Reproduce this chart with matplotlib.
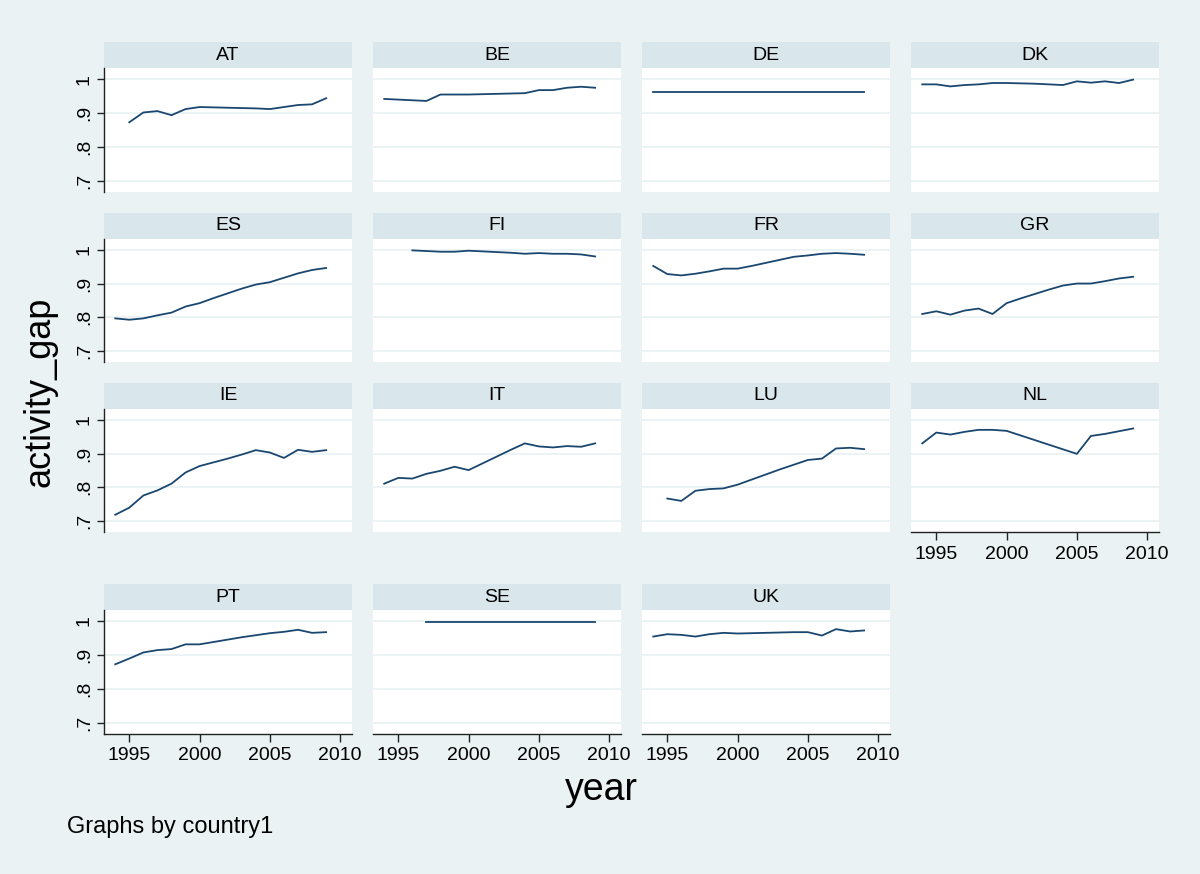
import matplotlib
matplotlib.use('Agg')
import matplotlib.pyplot as plt
from matplotlib.ticker import FuncFormatter

# --- data (activity_gap by year, one panel per country) ---

countries = ['AT', 'BE', 'DE', 'DK', 'ES', 'FI', 'FR', 'GR',
             'IE', 'IT', 'LU', 'NL', 'PT', 'SE', 'UK']

years_at = list(range(1995, 2010))
gap_at = [.873, .902, .906, .894, .912, .918, .917, .916, .915, .914,
          .912, .918, .924, .926, .944]

years_be = list(range(1994, 2010))
gap_be = [.942, .940, .938, .936, .955, .955, .955, .956, .957, .958,
          .959, .968, .968, .975, .978, .975]

years_de = list(range(1994, 2010))
gap_de = [.961] * 16

years_dk = list(range(1994, 2010))
gap_dk = [.985, .985, .979, .983, .985, .989, .989, .988, .987, .985,
          .983, .994, .990, .994, .989, .999]

years_es = list(range(1994, 2010))
gap_es = [.797, .793, .797, .806, .814, .832, .842, .857, .871, .885,
          .897, .904, .917, .930, .940, .946]

years_fi = list(range(1996, 2010))
gap_fi = [.998, .996, .994, .994, .997, .995, .993, .991, .988, .990,
          .988, .988, .986, .980]

years_fr = list(range(1994, 2010))
gap_fr = [.952, .928, .924, .929, .936, .944, .944, .952, .961, .970,
          .979, .983, .988, .990, .988, .985]

years_gr = list(range(1994, 2010))
gap_gr = [.810, .818, .808, .820, .826, .810, .842, .856, .869, .882,
          .894, .900, .900, .907, .915, .920]

years_ie = list(range(1994, 2010))
gap_ie = [.719, .740, .776, .791, .811, .844, .863, .874, .885, .897,
          .910, .903, .887, .911, .905, .910]

years_it = list(range(1994, 2010))
gap_it = [.811, .828, .826, .840, .849, .861, .851, .871, .891, .911,
          .930, .921, .918, .922, .920, .930]

years_lu = list(range(1995, 2010))
gap_lu = [.767, .760, .790, .795, .797, .808, .823, .838, .853, .867,
          .881, .885, .915, .917, .913]

years_nl = [1994, 1995, 1996, 1997, 1998, 1999, 2000, 2005, 2006, 2007, 2008, 2009]
gap_nl = [.930, .962, .956, .964, .970, .970, .967, .899, .952, .958, .966, .974]

years_pt = list(range(1994, 2010))
gap_pt = [.872, .889, .907, .914, .917, .931, .931, .938, .945, .952,
          .958, .964, .968, .974, .965, .967]

years_se = list(range(1997, 2010))
gap_se = [.997] * 13

years_uk = list(range(1994, 2010))
gap_uk = [.954, .961, .959, .954, .961, .965, .963, .964, .965, .966,
          .967, .967, .957, .976, .969, .972]

series = {
    'AT': (years_at, gap_at), 'BE': (years_be, gap_be), 'DE': (years_de, gap_de),
    'DK': (years_dk, gap_dk), 'ES': (years_es, gap_es), 'FI': (years_fi, gap_fi),
    'FR': (years_fr, gap_fr), 'GR': (years_gr, gap_gr), 'IE': (years_ie, gap_ie),
    'IT': (years_it, gap_it), 'LU': (years_lu, gap_lu), 'NL': (years_nl, gap_nl),
    'PT': (years_pt, gap_pt), 'SE': (years_se, gap_se), 'UK': (years_uk, gap_uk),
}

y_ticks = [.7, .8, .9, 1.0]
x_ticks = [1995, 2000, 2005, 2010]

# --- Stata s2color look ---
BG = '#EAF2F3'
STRIP = '#D9E6EB'
LINE = '#1A476F'
plt.rcParams['font.family'] = ['Liberation Sans', 'DejaVu Sans']

W, H = 1200, 874
fig = plt.figure(figsize=(W / 100, H / 100), dpi=100, facecolor=BG)


def px_axes(left, top, right, bottom):
    return fig.add_axes([left / W, 1 - bottom / H, (right - left) / W, (bottom - top) / H])


col_left = [104, 373, 642, 911]
panel_w = 248
row_top = [42.3, 212.7, 382.7, 584]
strip_h = 26
plot_h = 123.5

# panels that carry an x axis (bottom of each column)
x_axis_panels = {'PT', 'SE', 'UK', 'NL'}

tick_fmt = FuncFormatter(lambda v, p: '1' if abs(v - 1) < 1e-9 else ('%.1f' % v).lstrip('0'))

for i, c in enumerate(countries):
    r, k = divmod(i, 4)
    left = col_left[k]
    top = row_top[r]

    strip = px_axes(left, top, left + panel_w, top + strip_h)
    strip.set_facecolor(STRIP)
    strip.set_xticks([])
    strip.set_yticks([])
    for s in strip.spines.values():
        s.set_visible(False)
    strip.text(0.5, 0.5, c, ha='center', va='center', fontsize=14, transform=strip.transAxes)

    ax = px_axes(left, top + strip_h, left + panel_w, top + strip_h + plot_h)
    ax.set_facecolor('white')
    yrs, vals = series[c]
    ax.plot(yrs, vals, color=LINE, lw=1.3, zorder=3)
    ax.set_xlim(1993.2, 2010.84)
    ax.set_ylim(0.6675, 1.0325)
    ax.set_yticks(y_ticks)
    ax.set_xticks(x_ticks)
    ax.grid(axis='y', color=BG, lw=1.3, zorder=0)
    ax.grid(axis='x', visible=False)
    for s in ax.spines.values():
        s.set_visible(False)

    if k == 0:
        ax.spines['left'].set_visible(True)
        ax.spines['left'].set_color('#222222')
        ax.spines['left'].set_linewidth(1)
        ax.yaxis.set_major_formatter(tick_fmt)
        ax.tick_params(axis='y', length=5, width=1, color='#222222', labelsize=14, pad=3)
        for lab in ax.get_yticklabels():
            lab.set_rotation(90)
            lab.set_va('center')
    else:
        ax.tick_params(axis='y', left=False, labelleft=False)

    if c in x_axis_panels:
        ax.spines['bottom'].set_visible(True)
        ax.spines['bottom'].set_color('#222222')
        ax.spines['bottom'].set_linewidth(1)
        ax.tick_params(axis='x', length=6, width=1, color='#222222', labelsize=14, pad=4)
    else:
        ax.tick_params(axis='x', bottom=False, labelbottom=False)

fig.text(40 / W, 1 - 392 / H, 'activity_gap', rotation=90, ha='center', va='center', fontsize=26)
fig.text(601 / W, 1 - 790 / H, 'year', ha='center', va='center', fontsize=27)
fig.text(67 / W, 1 - 827 / H, 'Graphs by country1', ha='left', va='center', fontsize=17)

fig.savefig('out.png', dpi=100, facecolor=BG)
